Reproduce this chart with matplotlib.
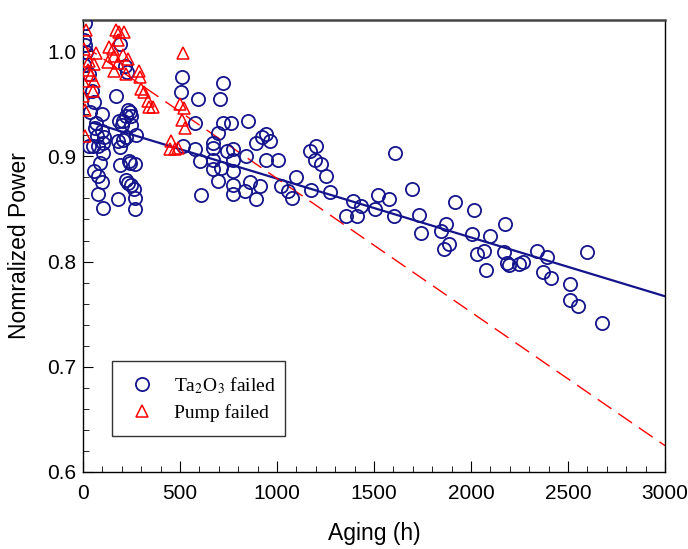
import numpy as np
import matplotlib
matplotlib.use("Agg")
import matplotlib.pyplot as plt
from matplotlib.ticker import MultipleLocator, FormatStrFormatter

plt.rcParams['font.family'] = ['Liberation Sans', 'DejaVu Sans']
plt.rcParams['mathtext.fontset'] = 'stix'

# Ta2O3 failed (aging hours, normalized power)
ta_h = [12, 7, 12, 15, 5, 30, 46, 58, 36, 98, 67, 62, 96, 70, 110, 30, 53, 75, 101, 105,
        88, 58, 76, 98, 76, 101,
        190, 216, 225, 170, 230, 187, 207, 221, 242, 250, 247, 199, 204, 178, 221, 273,
        190, 190, 242, 268, 235, 221, 233, 247, 264, 269, 180, 269,
        508, 505, 594, 705, 722, 577, 722, 765, 697, 516, 577, 671, 671, 603, 671, 740,
        773, 773, 671, 713, 773, 697, 773, 773, 606,
        851, 942, 925, 962, 890, 842, 942, 1005, 860, 911, 834, 894, 1023, 1057, 1077, 1100,
        1168, 1202, 1194, 1229, 1254, 1174, 1271, 1391, 1434, 1357, 1412, 1503, 1520, 1576,
        1606, 1601,
        1697, 1731, 1743, 1871, 1843, 1915, 1885, 1863, 2014, 2005, 2099, 2175, 2065, 2029,
        2077, 2171, 2184, 2194, 2249, 2269, 2338, 2391, 2373, 2411, 2600, 2510, 2510, 2554,
        2673]
ta_p = [1.027, 1.011, 1.006, 0.999, 0.987, 0.978, 0.962, 0.952, 0.942, 0.940, 0.932, 0.927,
        0.924, 0.919, 0.918, 0.910, 0.910, 0.910, 0.913, 0.903,
        0.894, 0.886, 0.881, 0.876, 0.864, 0.851,
        1.007, 0.986, 0.980, 0.957, 0.944, 0.934, 0.934, 0.938, 0.942, 0.938, 0.930, 0.930,
        0.916, 0.915, 0.918, 0.920,
        0.909, 0.892, 0.894, 0.893, 0.896, 0.878, 0.875, 0.873, 0.869, 0.860, 0.859, 0.850,
        0.975, 0.961, 0.955, 0.955, 0.970, 0.932, 0.932, 0.932, 0.922, 0.910, 0.907, 0.913,
        0.908, 0.896, 0.897, 0.905,
        0.907, 0.897, 0.888, 0.889, 0.886, 0.877, 0.873, 0.864, 0.863,
        0.934, 0.921, 0.918, 0.915, 0.913, 0.900, 0.897, 0.897, 0.876, 0.872, 0.867, 0.859,
        0.872, 0.867, 0.860, 0.880,
        0.905, 0.910, 0.897, 0.893, 0.881, 0.868, 0.866, 0.858, 0.853, 0.843, 0.843, 0.850,
        0.863, 0.859, 0.903, 0.843,
        0.869, 0.844, 0.827, 0.836, 0.829, 0.857, 0.817, 0.812, 0.849, 0.826, 0.824, 0.836,
        0.810, 0.807, 0.792, 0.809, 0.799, 0.797, 0.798, 0.800, 0.810, 0.804, 0.790, 0.784,
        0.809, 0.779, 0.763, 0.758, 0.742]

# Pump failed
pump_h = [17, 172, 185, 210, 178, 135, 153, 7, 65, 204, 161, 230, 128, 178, 33, 55, 25, 41,
          158, 223, 291, 293, 2, 55, 50, 298, 312, 335, 338, 362, 2, 10, 10,
          513, 500, 520, 508, 525, 456, 448, 473, 490]
pump_p = [1.020, 1.020, 1.018, 1.018, 1.011, 1.004, 1.002, 1.002, 0.998, 0.996, 0.995, 0.993,
          0.990, 0.989, 0.991, 0.988, 0.982, 0.977, 0.981, 0.978, 0.981, 0.975, 0.972, 0.972,
          0.962, 0.964, 0.961, 0.953, 0.947, 0.947, 0.957, 0.944, 0.919,
          0.998, 0.950, 0.946, 0.935, 0.927, 0.915, 0.907, 0.907, 0.908]

# fitted trend lines (end points)
ta_fit_h = [50, 3000]
ta_fit_p = [0.932, 0.767]
pump_fit_h = [0, 3000]
pump_fit_p = [1.006, 0.625]

navy = '#14148c'
red = '#ff0000'

fig = plt.figure(figsize=(6.88, 5.49), dpi=100)
ax = fig.add_axes([0.1206, 0.1403, 0.846, 0.824])

ax.plot(ta_fit_h, ta_fit_p, color=navy, lw=1.6, zorder=2)
ax.plot(pump_fit_h, pump_fit_p, color=red, lw=1.0, dashes=(12, 6), zorder=2)

ax.plot(ta_h, ta_p, 'o', ms=9.5, mfc='none', mec=navy, mew=1.3, ls='none', zorder=3,
        label='Ta$_2$O$_3$ failed')
ax.plot(pump_h, pump_p, '^', ms=8.5, mfc='none', mec=red, mew=1.1, ls='none', zorder=4,
        label='Pump failed')

ax.set_xlim(0, 3000)
ax.set_ylim(0.6, 1.03)
ax.xaxis.set_major_locator(MultipleLocator(500))
ax.xaxis.set_minor_locator(MultipleLocator(100))
ax.yaxis.set_major_locator(MultipleLocator(0.1))
ax.yaxis.set_minor_locator(MultipleLocator(0.02))
ax.yaxis.set_major_formatter(FormatStrFormatter('%.1f'))

ax.tick_params(which='both', direction='in', top=False, right=False, labelsize=15)
ax.tick_params(axis='x', which='major', length=8, pad=9)
ax.tick_params(axis='y', which='major', length=7, pad=4.5)
ax.tick_params(which='minor', length=4.5)

for s in ['left', 'bottom', 'right']:
    ax.spines[s].set_linewidth(1.0)
ax.spines['top'].set_linewidth(1.8)
ax.spines['top'].set_color('#444444')

ax.set_xlabel('Aging (h)', fontsize=16.5, labelpad=13)
ax.set_ylabel('Nomralized Power', fontsize=16.5, labelpad=12)

leg = ax.legend(loc='lower left', bbox_to_anchor=(0.050, 0.080, 0.297, 0.166), mode='expand',
                frameon=True, fancybox=False, borderaxespad=0, handletextpad=0.8,
                borderpad=0.7, labelspacing=0.45, handlelength=1.7,
                prop={'family': 'Liberation Serif', 'size': 14})
leg.get_frame().set_edgecolor('black')
leg.get_frame().set_linewidth(1.0)

fig.savefig('out.png', dpi=100)
